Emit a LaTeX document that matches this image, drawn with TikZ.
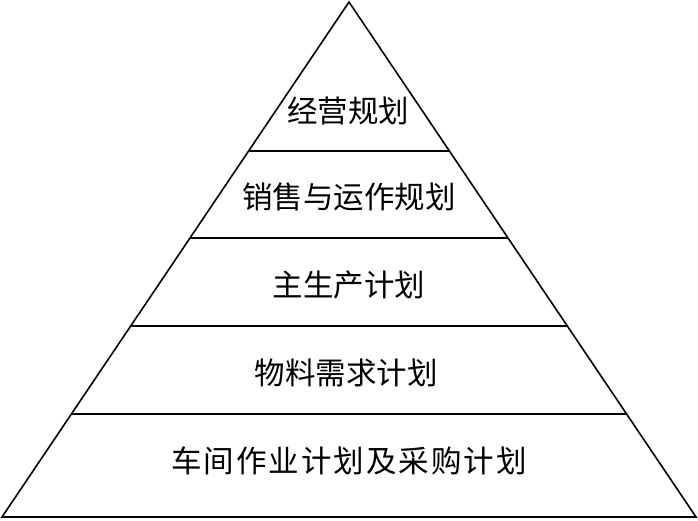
\documentclass[tikz,border=0pt]{standalone}
\usepackage{fontspec}
\newfontfamily\cjk{Noto Sans CJK SC}
\usetikzlibrary{calc}

\begin{document}
\begin{tikzpicture}[
  x=1pt, y=-1pt,
  edge/.style={draw, line width=1.6pt, line join=miter},
  layer/.style={font=\cjk\fontsize{30.5}{30.5}\selectfont, inner sep=0pt, anchor=center}
]
\useasboundingbox (0,0) rectangle (698,520);

% pyramid outline
\coordinate (apex) at (349,2);
\coordinate (bl) at (2,517);
\coordinate (br) at (696,517);
\draw[edge] (apex) -- (bl) -- (br) -- cycle;

% dividing lines
\foreach \t [count=\i] in {0.2893,0.4583,0.6291,0.8000} {
  \coordinate (l\i) at ($(apex)!\t!(bl)$);
  \coordinate (r\i) at ($(apex)!\t!(br)$);
  \draw[edge] (l\i) -- (r\i);
}

\node[layer] (biz) at (348,111) {经营规划};
\node[layer] (sop) at (349,197) {销售与运作规划};
\node[layer] (mps) at (349,285) {主生产计划};
\node[layer] (mrp) at (346,373) {物料需求计划};
\node[layer] (shop) at (349,461) {\addfontfeature{LetterSpace=6.5}车间作业计划及采购计划};
\end{tikzpicture}
\end{document}
